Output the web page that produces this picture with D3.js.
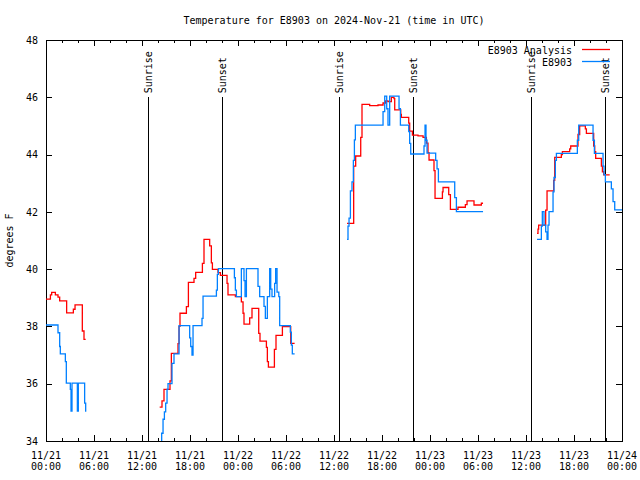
<!DOCTYPE html>
<html><head><meta charset="utf-8">
<script src="https://cdn.jsdelivr.net/npm/d3@7"></script>
<style>
body{margin:0;background:#fff}
text{font-family:"DejaVu Sans Mono",monospace;font-size:10px;fill:#000}
</style>
</head><body>
<svg id="c" width="640" height="480"></svg>
<script>
// ---- data (hours since 2024-11-21 00:00 UTC, degrees F) ----
const chartTitle = "Temperature for E8903 on 2024-Nov-21 (time in UTC)";
const yAxisLabel = "degrees F";
const seriesNames = ["E8903 Analysis", "E8903"];
const seriesColors = ["#ff0000", "#0080ff"];
const yTicks = [34, 36, 38, 40, 42, 44, 46, 48];
const xMajorHours = [0, 6, 12, 18, 24, 30, 36, 42, 48, 54, 60, 66, 72];
const xTickDates = ["11/21","11/21","11/21","11/21","11/22","11/22","11/22","11/22","11/23","11/23","11/23","11/23","11/24"];
const xTickTimes = ["00:00","06:00","12:00","18:00","00:00","06:00","12:00","18:00","00:00","06:00","12:00","18:00","00:00"];
const sunriseHours = [12.75, 36.63, 60.63];
const sunsetHours = [22.0, 45.88, 69.88];

const analysis1 = [[0,38.95],[0.55,39.1],[0.71,39.19],[1.17,39.1],[1.5,39.02],[1.71,38.89],[2.58,38.47],[3.42,38.6],[3.63,38.75],[4.54,37.84],[4.75,37.55],[4.96,37.55]];
const analysis2 = [[14.21,35.18],[14.5,35.4],[14.75,35.8],[15.5,36.1],[15.67,37.06],[16.5,37.4],[16.63,38.0],[16.75,38.46],[17.55,38.69],[17.8,39.54],[18.5,39.68],[18.71,39.89],[19.55,40.2],[19.75,41.04],[20.46,40.81],[20.67,40.22],[20.8,39.99],[21.5,39.88],[21.8,39.78],[22.63,39.5],[22.75,39.1],[23.67,39.04],[24.42,38.86],[24.63,38.46],[24.75,38.08],[25.46,38.3],[25.75,38.63],[26.59,37.76],[26.75,37.49],[27.55,37.27],[27.67,36.77],[27.8,36.58],[28.55,37.2],[28.75,37.69],[29.55,37.99],[30.59,37.41],[31.08,37.41]];
const analysis3 = [[37.63,41.6],[38.46,43.6],[38.71,43.95],[39.34,44.6],[39.5,45.75],[40.46,45.71],[41.5,45.73],[42.13,45.8],[42.46,45.87],[42.75,45.85],[43.17,46.0],[43.5,45.95],[43.59,45.56],[44.34,45.4],[44.42,45.3],[45.34,45.1],[45.46,44.82],[45.8,44.68],[46.5,44.65],[47.13,44.6],[47.55,44.4],[47.75,44.07],[47.88,43.81],[48.5,43.44],[48.63,42.47],[49.55,42.7],[49.63,42.85],[50.34,42.6],[50.55,42.09],[51.5,42.16],[52.42,42.25],[52.63,42.38],[53.5,42.24],[54.42,42.3],[54.63,42.3]];
const analysis4 = [[61.38,41.25],[61.5,41.4],[61.58,41.54],[62.46,42.06],[62.63,42.73],[63.46,43.1],[63.59,43.9],[64.42,44.0],[64.55,44.1],[65.46,44.2],[65.59,44.3],[66.5,44.7],[66.71,45.0],[67.42,44.9],[67.55,44.74],[68.46,44.3],[68.59,44.1],[68.71,43.87],[69.42,43.6],[69.55,43.4],[69.71,43.29],[70.46,43.29]];

const obs1 = [[0,38.05],[1.5,37.78],[1.71,37.3],[1.79,37.04],[2.42,36.77],[2.54,36.02],[3.04,35.8],[3.13,35.04],[3.25,36.02],[3.92,35.04],[4.04,36.02],[4.83,35.32],[4.96,35.04],[5.04,35.04]];
const obs2 = [[14.4,33.7],[14.46,34.27],[14.63,34.76],[14.8,35.02],[14.96,35.32],[15.13,35.8],[15.25,36.0],[15.75,36.71],[16.0,37.04],[16.63,38.03],[17.96,37.6],[18.09,37.3],[18.25,37.0],[18.38,38.03],[19.5,38.28],[19.63,39.06],[21.3,39.27],[21.42,39.82],[21.55,40.02],[23.55,39.7],[23.67,39.27],[23.8,39.04],[24.42,40.02],[24.75,39.6],[24.88,39.04],[25.05,40.02],[26.5,39.4],[26.71,39.04],[27.25,38.7],[27.42,38.28],[27.67,39.04],[27.96,40.02],[28.09,39.3],[28.25,39.04],[28.58,39.5],[28.71,40.02],[28.88,39.2],[29.1,39.04],[29.21,38.03],[30.54,37.8],[30.67,37.35],[30.79,37.04],[31.08,37.04]];
const obs3 = [[37.63,41.04],[37.75,41.5],[37.88,41.78],[38.05,42.73],[38.25,43.05],[38.42,43.8],[38.55,44.51],[38.67,45.03],[42.13,45.5],[42.34,46.04],[42.59,45.6],[42.75,45.03],[42.96,46.04],[44.13,45.6],[44.3,45.03],[45.34,44.8],[45.46,44.39],[45.59,44.02],[47.25,44.3],[47.38,45.03],[47.5,44.5],[47.63,44.05],[48.71,43.8],[48.88,43.5],[49.05,43.05],[51.09,42.5],[51.3,42.01],[54.63,42.01]];
const obs4 = [[61.38,41.04],[61.92,41.5],[62.04,42.01],[62.25,41.54],[62.46,41.3],[62.63,41.04],[62.75,41.54],[62.88,42.01],[63.38,42.7],[63.5,43.2],[63.67,43.8],[63.8,44.04],[66.42,44.5],[66.59,45.03],[68.38,44.5],[68.55,44.04],[69.63,43.6],[69.75,43.3],[69.92,43.05],[70.67,42.8],[70.88,42.36],[71.09,42.07],[72.5,42.07]];

// ---- drawing ----
const svg = d3.select("#c");
svg.append("rect").attr("width",640).attr("height",480).attr("fill","#fff");
const L = 46, R = 622, T = 40, B = 441;
const x = d3.scaleLinear().domain([0,72]).range([L,R]);
const y = d3.scaleLinear().domain([34,48]).range([B,T]);

svg.append("defs").append("clipPath").attr("id","clip")
  .append("rect").attr("x",L).attr("y",T).attr("width",R-L).attr("height",B-T);

const minorHours = d3.range(0,73,2).filter(h => h % 6 !== 0);

function styleAxis(g){
  g.select(".domain").remove();
  g.selectAll(".tick line").attr("stroke","#000").attr("shape-rendering","crispEdges");
}
// bottom
svg.append("g").attr("transform",`translate(0,${B})`)
  .call(d3.axisBottom(x).tickValues(xMajorHours).tickSizeInner(-6).tickSizeOuter(0).tickFormat(""))
  .call(styleAxis);
svg.append("g").attr("transform",`translate(0,${B})`)
  .call(d3.axisBottom(x).tickValues(minorHours).tickSizeInner(-3).tickSizeOuter(0).tickFormat(""))
  .call(styleAxis);
// top
svg.append("g").attr("transform",`translate(0,${T})`)
  .call(d3.axisTop(x).tickValues(xMajorHours).tickSizeInner(-6).tickSizeOuter(0).tickFormat(""))
  .call(styleAxis);
svg.append("g").attr("transform",`translate(0,${T})`)
  .call(d3.axisTop(x).tickValues(minorHours).tickSizeInner(-3).tickSizeOuter(0).tickFormat(""))
  .call(styleAxis);
// left
const gl = svg.append("g").attr("transform",`translate(${L},0)`)
  .call(d3.axisLeft(y).tickValues(yTicks).tickSizeInner(-6).tickSizeOuter(0).tickPadding(8).tickFormat(d3.format("d")))
  .call(styleAxis);
gl.selectAll(".tick text").attr("font-family",null).attr("font-size",null).attr("fill","#000");
// right
svg.append("g").attr("transform",`translate(${R},0)`)
  .call(d3.axisRight(y).tickValues(yTicks).tickSizeInner(-6).tickSizeOuter(0).tickFormat(""))
  .call(styleAxis);

// x tick labels (two lines)
const xl = svg.append("g");
xMajorHours.forEach((h,i) => {
  const t = xl.append("text").attr("text-anchor","middle");
  t.append("tspan").attr("x",x(h)).attr("y",459).text(xTickDates[i]);
  t.append("tspan").attr("x",x(h)).attr("y",470).text(xTickTimes[i]);
});

// frame
svg.append("rect").attr("x",L).attr("y",T).attr("width",R-L).attr("height",B-T)
  .attr("fill","none").attr("stroke","#000").attr("shape-rendering","crispEdges");

// sunrise / sunset
const sunEvents = sunriseHours.map(h => ({h, label:"Sunrise"})).concat(sunsetHours.map(h => ({h, label:"Sunset"})));
const sg = svg.append("g");
sunEvents.forEach(e => {
  sg.append("line").attr("x1",x(e.h)).attr("x2",x(e.h)).attr("y1",y(46)).attr("y2",y(34))
    .attr("stroke","#000").attr("shape-rendering","crispEdges");
  sg.append("text").attr("transform",`translate(${x(e.h)},${y(46)-4}) rotate(-90)`)
    .attr("dy","0.35em").attr("text-anchor","start").text(e.label);
});

// lines
const line = d3.line().x(d => x(d[0])).y(d => y(d[1])).curve(d3.curveStepAfter);
const dg = svg.append("g").attr("clip-path","url(#clip)");
[analysis1, analysis2, analysis3, analysis4].forEach(s => {
  dg.append("path").datum(s).attr("d",line).attr("fill","none").attr("stroke",seriesColors[0])
    .attr("stroke-width",1.3);
});
[obs1, obs2, obs3, obs4].forEach(s => {
  dg.append("path").datum(s).attr("d",line).attr("fill","none").attr("stroke",seriesColors[1])
    .attr("stroke-width",1.3);
});

// title & y label
svg.append("text").attr("x",(L+R)/2).attr("y",24).attr("text-anchor","middle").text(chartTitle);
svg.append("text").attr("transform",`translate(13,${(T+B)/2}) rotate(-90)`).attr("text-anchor","middle").text(yAxisLabel);

// legend
const legY = [53.5, 65.5];
seriesNames.forEach((n,i) => {
  svg.append("text").attr("x",572).attr("y",legY[i]).attr("text-anchor","end").text(n);
  svg.append("line").attr("x1",582).attr("x2",610).attr("y1",legY[i]-4).attr("y2",legY[i]-4)
    .attr("stroke",seriesColors[i]).attr("stroke-width",1.3);
});
</script>
</body></html>
